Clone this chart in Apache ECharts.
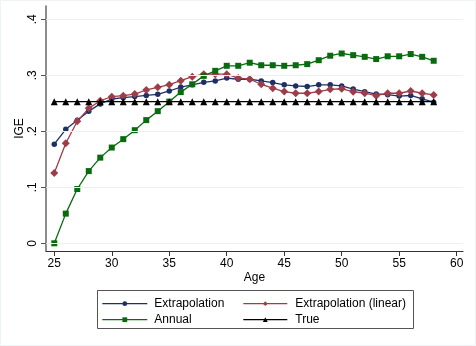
<!DOCTYPE html>
<html>
<head>
<meta charset="utf-8">
<script src="https://cdn.jsdelivr.net/npm/echarts@6/dist/echarts.min.js"></script>
<style>
html,body{margin:0;padding:0;background:#fff;}
#c{width:476px;height:346px;}
</style>
</head>
<body>
<div id="c"></div>
<script>
const ages = [25,26,27,28,29,30,31,32,33,34,35,36,37,38,39,40,41,42,43,44,45,46,47,48,49,50,51,52,53,54,55,56,57,58];
const extrapolation = [0.177,0.2035,0.2196,0.236,0.249,0.2577,0.260,0.262,0.264,0.266,0.272,0.279,0.283,0.2875,0.290,0.295,0.293,0.293,0.290,0.287,0.283,0.281,0.280,0.283,0.283,0.281,0.2755,0.2707,0.2666,0.2654,0.263,0.264,0.258,0.252];
const extrapolationLinear = [0.1255,0.1786,0.218,0.241,0.2546,0.2618,0.2636,0.2666,0.2738,0.2786,0.2832,0.2905,0.2975,0.302,0.302,0.302,0.295,0.293,0.284,0.277,0.271,0.268,0.268,0.271,0.275,0.276,0.2707,0.268,0.2636,0.268,0.268,0.272,0.268,0.265];
const annual = [0.0,0.053,0.097,0.129,0.153,0.171,0.186,0.202,0.220,0.236,0.253,0.270,0.284,0.299,0.308,0.317,0.317,0.3225,0.318,0.318,0.317,0.318,0.320,0.327,0.335,0.339,0.336,0.333,0.329,0.334,0.334,0.338,0.333,0.326];
const trueIGE = [0.253,0.253,0.253,0.253,0.253,0.253,0.253,0.253,0.253,0.253,0.253,0.253,0.253,0.253,0.253,0.253,0.253,0.253,0.253,0.253,0.253,0.253,0.253,0.253,0.253,0.253,0.253,0.253,0.253,0.253,0.253,0.253,0.253,0.253];
const xTicks = [25,30,35,40,45,50,55,60];
const yTicks = [0,0.1,0.2,0.3,0.4];
const yTickLabels = ['0','.1','.2','.3','.4'];
const seriesNames = ['Extrapolation','Extrapolation (linear)','Annual','True'];

const FONT = 'Liberation Sans, Arial, sans-serif';
const pairs = arr => ages.map((a,i)=>[a,arr[i]]);

const chart = echarts.init(document.getElementById('c'), null, {renderer:'canvas'});
const mk = (name, data, color, symbol, size, z) => ({
  name, type:'line', data: pairs(data), symbol, symbolSize:size, showAllSymbol:true,
  lineStyle:{color, width:1.3}, itemStyle:{color, borderWidth:0}, z, animation:false
});
const legendCommon = {orient:'vertical', top:297.7, padding:0, itemWidth:45, itemHeight:6, itemGap:4,
  itemStyle:{borderWidth:0}, lineStyle:{width:1.2}};
chart.setOption({
  animation:false,
  backgroundColor:'#ffffff',
  grid:{left:46, right:13, top:6, bottom:95},
  xAxis:{
    type:'value', min:24.28, max:60.55,
    name:'Age', nameLocation:'middle', nameGap:21, nameMoveOverlap:false,
    nameTextStyle:{fontFamily:FONT, fontSize:12, color:'#000'},
    axisLine:{show:true, onZero:false, lineStyle:{color:'#333', width:1}},
    axisTick:{show:true, length:5, customValues:xTicks, lineStyle:{color:'#333'}},
    axisLabel:{customValues:xTicks, margin:7, fontFamily:FONT, fontSize:12, color:'#000'},
    splitLine:{show:false}
  },
  yAxis:{
    type:'value', min:-0.01375, max:0.4238,
    name:'IGE', nameLocation:'middle', nameGap:20, nameMoveOverlap:false,
    nameTextStyle:{fontFamily:FONT, fontSize:12, color:'#000'},
    axisLine:{show:true, onZero:false, lineStyle:{color:'#666', width:1.5}},
    axisTick:{show:true, length:5, customValues:yTicks, lineStyle:{color:'#555'}},
    axisLabel:{customValues:yTicks, rotate:90, margin:7, fontFamily:FONT, fontSize:12, color:'#000',
      formatter:v=>{const i=yTicks.findIndex(t=>Math.abs(t-v)<1e-6);return i>=0?yTickLabels[i]:'';}},
    splitLine:{show:false}
  },
  legend:[
    Object.assign({}, legendCommon, {left:101.7, data:[seriesNames[0], seriesNames[2]],
      textStyle:{fontFamily:FONT, fontSize:12, color:'#000', padding:[0,0,0,2]}}),
    Object.assign({}, legendCommon, {left:242.7, itemWidth:44, data:[seriesNames[1], seriesNames[3]],
      textStyle:{fontFamily:FONT, fontSize:12, color:'#000', padding:[0,0,0,3]}})
  ],
  graphic:[
    {type:'rect', shape:{x:97.5, y:290.5, width:316, height:38}, style:{fill:'#fff', stroke:'#555', lineWidth:1}, z:-1},
    {type:'rect', shape:{x:0.5, y:0.5, width:475, height:345}, style:{fill:'none', stroke:'#eef3f4', lineWidth:1}, z:-1}
  ],
  series:[
    {name:'grid', type:'line', data:[], z:0, silent:true,
     markLine:{silent:true, symbol:'none', label:{show:false}, animation:false,
       lineStyle:{color:'#e8f0f1', width:1, type:'solid'},
       data: yTicks.map(v=>({yAxis:v}))}},
    mk(seriesNames[0], extrapolation, '#1e2f64', 'circle', 5.5, 3),
    mk(seriesNames[1], extrapolationLinear, '#9e3d4a', 'diamond', 8, 3),
    mk(seriesNames[2], annual, '#086b0d', 'rect', 6, 3),
    mk(seriesNames[3], trueIGE, '#000000', 'triangle', 7, 4)
  ]
});
</script>
</body>
</html>
